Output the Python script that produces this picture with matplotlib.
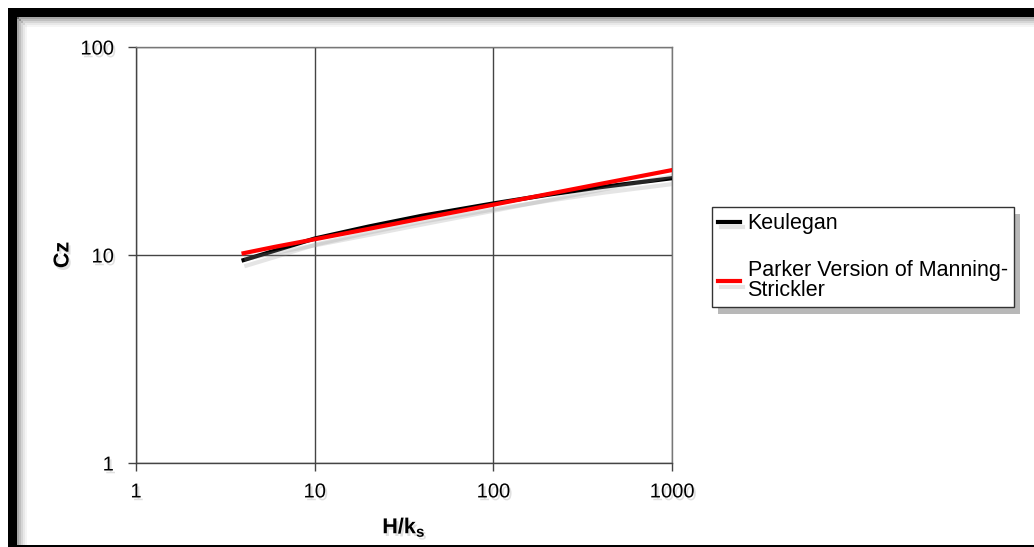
import matplotlib.pyplot as plt
import matplotlib.patheffects as pe
from matplotlib.patches import Rectangle

# values
h_ks = [4, 6, 10, 20, 40, 100, 200, 400, 1000]
keulegan = [9.45, 10.5, 12.0, 13.7, 15.45, 17.7, 19.45, 21.2, 23.4]
parker = [10.2, 10.95, 11.9, 13.35, 15.0, 17.45, 19.6, 22.0, 25.6]
x_ticks = [1, 10, 100, 1000]
y_ticks = [1, 10, 100]

plt.rcParams['font.family'] = ['Liberation Sans', 'DejaVu Sans']

W, H = 1034, 547
fig = plt.figure(figsize=(W / 100, H / 100), dpi=100)
ax = fig.add_axes([136 / W, 1 - 463 / H, (672 - 136) / W, (463 - 47) / H])

shadow_txt = [pe.SimplePatchShadow(offset=(1.5, -2), shadow_rgbFace='0.6', alpha=0.3), pe.Normal()]
shadow_line = [pe.SimpleLineShadow(offset=(2, -4), shadow_color='0.6', alpha=0.25), pe.Normal()]

ax.plot(h_ks, keulegan, color='black', lw=3, path_effects=shadow_line, label='Keulegan', zorder=3)
ax.plot(h_ks, parker, color='#ff0000', lw=3, path_effects=shadow_line,
        label='Parker Version of Manning-\nStrickler', zorder=4)

ax.set_xscale('log')
ax.set_yscale('log')
ax.set_xlim(1, 1000)
ax.set_ylim(1, 100)
ax.set_xticks(x_ticks)
ax.set_xticklabels([str(t) for t in x_ticks])
ax.set_yticks(y_ticks)
ax.set_yticklabels([str(t) for t in y_ticks])
ax.minorticks_off()
ax.tick_params(axis='both', direction='out', length=6, width=1, color='#444444',
               labelsize=14.5, pad=10)
ax.tick_params(axis='x', pad=8)
for lab in ax.get_xticklabels() + ax.get_yticklabels():
    lab.set_path_effects(shadow_txt)

ax.grid(True, color='#444444', lw=1)
for s in ax.spines.values():
    s.set_color('#777777')
    s.set_linewidth(1)
ax.spines['left'].set_color('#444444')
ax.spines['bottom'].set_color('#444444')

ax.set_xlabel('H/k$_\\mathregular{s}$', fontsize=15.5, fontweight='bold', labelpad=10,
              path_effects=shadow_txt)
ax.set_ylabel('Cz', fontsize=15.5, fontweight='bold', labelpad=5, path_effects=shadow_txt)

leg = ax.legend(loc='upper left', bbox_to_anchor=(712 / W, 1 - 207 / H),
                bbox_transform=fig.transFigure, fontsize=15.5, frameon=True, framealpha=1,
                fancybox=False, shadow=False, handlelength=1.0, handletextpad=0.35,
                labelspacing=1.2, borderpad=0.3, borderaxespad=0)
leg.get_frame().set_edgecolor('#333333')
leg.get_frame().set_linewidth(1)
leg.get_frame().set_path_effects([pe.SimplePatchShadow(offset=(4, -5), shadow_rgbFace='0.45', alpha=0.5),
                                  pe.Normal()])
for t in leg.get_texts():
    t.set_linespacing(0.9)

# outer frame with inner shade
for i, a in enumerate([0.35, 0.25, 0.16, 0.09, 0.04]):
    fig.patches.append(Rectangle(((17 + i * 2) / W, -0.1), 2 / W, 1.1 - (17 + i * 2) / H,
                                 transform=fig.transFigure, facecolor='black', alpha=a,
                                 edgecolor='none'))
    fig.patches.append(Rectangle(((17 + i * 2) / W, 1 - (19 + i * 2) / H), 1.2, 2 / H,
                                 transform=fig.transFigure, facecolor='black', alpha=a,
                                 edgecolor='none'))
fig.patches.append(Rectangle((8 / W, 1 - 17 / H), 2, 9 / H, transform=fig.transFigure,
                             facecolor='black', edgecolor='none'))
fig.patches.append(Rectangle((8 / W, -0.1), 9 / W, 1.1 - 17 / H + 9 / H, transform=fig.transFigure,
                             facecolor='black', edgecolor='none'))
fig.patches.append(Rectangle((8 / W, -0.1), 2, 0.1 + 2.5 / H, transform=fig.transFigure,
                             facecolor='black', edgecolor='none'))

fig.savefig('out.png', dpi=100)
